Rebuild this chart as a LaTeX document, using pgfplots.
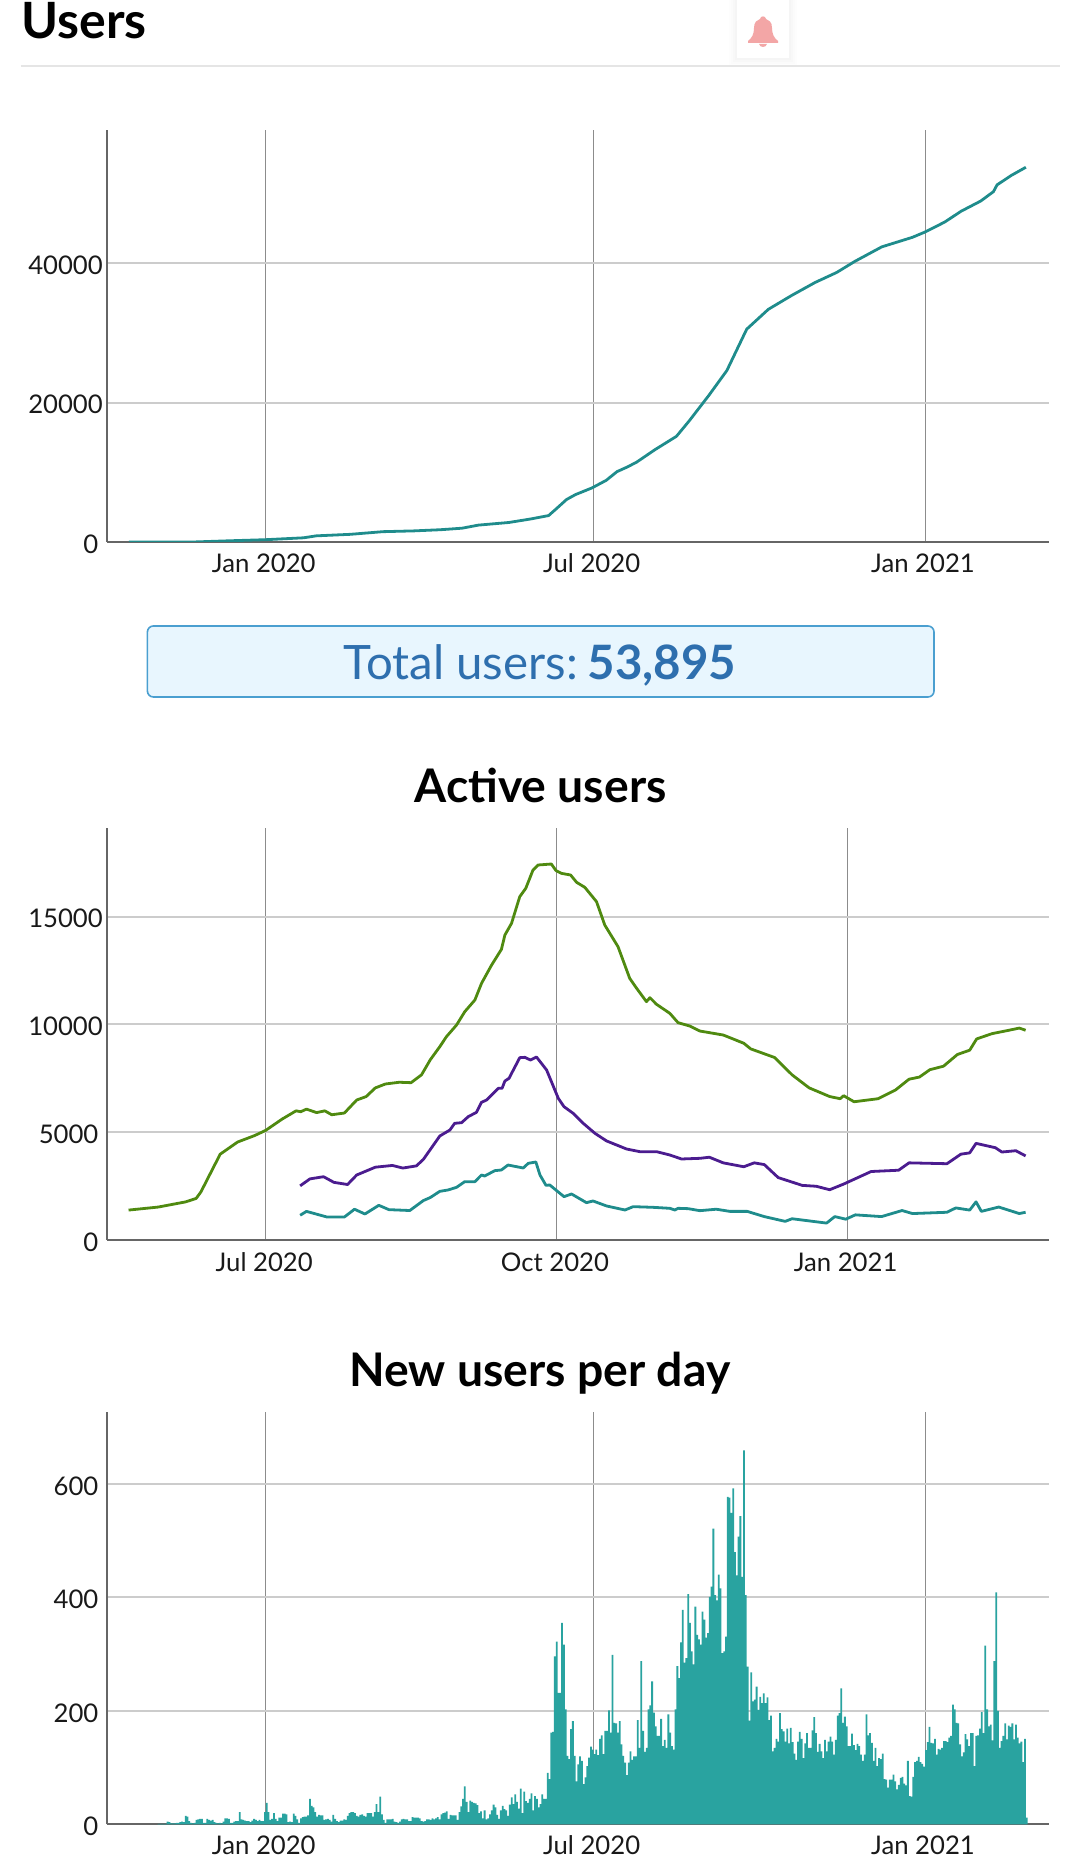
\documentclass[border=0pt]{standalone}
\usepackage{fontspec}
\setmainfont{Lato}
\usepackage{pgfplots}
\pgfplotsset{compat=1.18}

\definecolor{tealline}{HTML}{1F8C8C}
\definecolor{tealbar}{HTML}{29A3A0}
\definecolor{greenline}{HTML}{4F8A10}
\definecolor{purpleline}{HTML}{4B1C8F}
\definecolor{axisgray}{HTML}{666666}
\definecolor{hgrid}{HTML}{CCCCCC}
\definecolor{vgrid}{HTML}{8C8C8C}
\definecolor{boxfill}{HTML}{E8F6FE}
\definecolor{boxline}{HTML}{4A9FD0}
\definecolor{boxtext}{HTML}{2E6FAE}
\definecolor{bell}{HTML}{F3A6A6}

\pgfplotsset{
  panel/.style={
    scale only axis,
    anchor=south west,
    width=941.6pt,
    axis x line*=bottom,
    axis y line*=left,
    axis line style={-, color=axisgray, line width=2pt},
    major tick length=0pt,
    scaled y ticks=false,
    xmajorgrids, ymajorgrids,
    x grid style={color=vgrid, line width=1pt},
    y grid style={color=hgrid, line width=2pt},
    tick label style={font=\fontsize{25.7}{30}\selectfont, text=black!90},
    yticklabel style={inner sep=0pt, anchor=east, xshift=-4.4pt, yshift=-2pt},
    xticklabel style={inner sep=0pt, anchor=base, yshift=-30.9pt, xshift=-2pt},
  },
  wide/.style={panel, xmin=-87.95, xmax=434.85, xtick={0,182,366},
    xticklabels={Jan 2020,Jul 2020,Jan 2021}},
  userline/.style={line width=2.8pt, line join=round},
}

\begin{document}
\begin{tikzpicture}
\useasboundingbox (0,0) rectangle (1080pt,1862pt);

% page furniture
\node[anchor=base west, inner sep=0pt, font=\fontsize{50}{54}\selectfont\bfseries] at (21pt,1823pt) {Users};
\foreach \g/\o in {8/0.006,6/0.008,4/0.01,2/0.012}
  \fill[black, opacity=\o] (737pt-\g pt,1804pt-\g pt) rectangle (789pt+\g pt,1862pt);
\fill[white] (737pt,1804pt) rectangle (789pt,1862pt);
\draw[color=black!10, line width=2pt] (20.6pt,1796pt) -- (1060pt,1796pt);
\fill[bell] (748pt,1821pt)
  .. controls (752pt,1824pt) and (754pt,1828pt) .. (754pt,1834pt)
  .. controls (754pt,1840pt) and (757pt,1842pt) .. (760pt,1843pt)
  .. controls (760.5pt,1846.5pt) and (765.5pt,1846.5pt) .. (766pt,1843pt)
  .. controls (769pt,1842pt) and (772pt,1840pt) .. (772pt,1834pt)
  .. controls (772pt,1828pt) and (774pt,1824pt) .. (778pt,1821pt)
  -- (778pt,1819pt) -- (748pt,1819pt) -- cycle;
\fill[bell] (759pt,1818pt) -- (767pt,1818pt) .. controls (766pt,1814pt) and (760pt,1814pt) .. (759pt,1818pt) -- cycle;

\draw[fill=boxfill, draw=boxline, line width=1.6pt, rounded corners=6pt] (147.4pt,1165pt) rectangle (934pt,1236pt);
\node[anchor=base, inner sep=0pt, text=boxtext, font=\fontsize{47.4}{52}\selectfont] at (540pt,1182pt) {Total users:\kern-2.5pt\ \textbf{53,895}};
\node[anchor=base, inner sep=0pt, font=\fontsize{46.3}{52}\selectfont\bfseries] at (540.5pt,1059pt) {Active users};
\node[anchor=base, inner sep=0pt, font=\fontsize{46.3}{52}\selectfont\bfseries] at (540pt,475pt) {New users per day};

% total users
\begin{axis}[wide, at={(107.4pt,1320pt)}, height=412pt,
  ymin=0, ymax=59153, ytick={0,20000,40000},
  yticklabels={{0\kern4.4pt},{20000},{40000}}]
\addplot[color=tealline, userline] coordinates {
  (-76,0) (-40,0) (-21,165) (0,330) (21,600) (28,880) (47,1100) (65,1480)
  (82,1590) (97,1760) (109,1980) (118,2420) (135,2800) (147,3300) (157,3790)
  (161,4700) (167,6100) (172,6810) (181,7750) (189,8850) (195,10100) (201,10800)
  (206,11480) (216,13240) (228,15170) (235,17360) (246,21050) (256,24620)
  (267,30550) (279,33400) (292,35400) (305,37260) (317,38700) (327,40280)
  (342,42370) (359,43740) (366,44500) (377,45940) (386,47480) (397,48960)
  (404,50300) (406,51270) (414,52640) (422,53800)
};
\end{axis}

% active users
\begin{axis}[panel, at={(107.4pt,622pt)}, height=411.5pt,
  xmin=-50.1, xmax=247.9, xtick={0,92,184},
  xticklabels={Jul 2020,Oct 2020,Jan 2021},
  xticklabel style={xshift=0.5pt, yshift=-0.8pt},
  ymin=0, ymax=19087, ytick={0,5000,10000,15000},
  yticklabels={{0\kern4.4pt},{5000\kern4.4pt},{10000},{15000}}]
\addplot[color=greenline, userline] coordinates {
  (-43.4,1387) (-34,1528) (-25.3,1769) (-22,1930) (-20.5,2231) (-17.7,3035)
  (-14.4,3980) (-8.9,4543) (-3.5,4844) (0,5085) (5.2,5608) (9.6,5990) (11.1,5950)
  (12.9,6070) (16.1,5909) (18.7,5990) (20.9,5809) (24.9,5889) (28.8,6492)
  (31.8,6653) (34.7,7055) (37.9,7236) (42.3,7316) (46,7296) (49.3,7658)
  (52.1,8362) (55.1,8967) (57.2,9431) (60.4,9972) (63,10590) (66.2,11131)
  (68.3,11904) (71.5,12755) (74.6,13481) (75.7,14146) (77.8,14687) (80.4,15924)
  (82.3,16310) (84.6,17161) (86.2,17393) (90.4,17439) (91.9,17130) (93.6,17006)
  (96.5,16929) (98.4,16589) (101,16357) (104.7,15692) (107.3,14610) (111.5,13605)
  (115.2,12136) (117.4,11672) (120.5,11054) (121.6,11239) (123.7,10930)
  (127.9,10513) (130.5,10080) (134.2,9925) (137.4,9693) (144.8,9507) (151.3,9125)
  (153.5,8864) (161.1,8462) (166.6,7658) (172,7055) (178.5,6653) (181.8,6553)
  (182.9,6693) (186.2,6412) (193.8,6553) (199.3,6955) (203.6,7457) (206.9,7558)
  (210.2,7899) (214.5,8060) (218.9,8603) (222.8,8804) (225,9326) (229.8,9568)
  (235.2,9728) (238.5,9829) (240.5,9728)
};
\addplot[color=purpleline, userline] coordinates {
  (10.9,2512) (14,2834) (18.3,2935) (21.6,2673) (25.9,2573) (28.8,3015) (34.7,3377)
  (40.1,3457) (43.4,3337) (47.7,3437) (49.9,3739) (55.1,4824) (58.3,5102)
  (59.8,5411) (62,5442) (64.1,5720) (66.7,5921) (68.3,6385) (69.9,6493) (73.6,7034)
  (74.8,7034) (75.7,7374) (77,7498) (80.4,8457) (82,8472) (83.8,8348) (85.7,8488)
  (88.9,7885) (92.6,6571) (94.4,6184) (97.3,5875) (100.5,5411) (104.2,4947)
  (107.9,4592) (114.2,4221) (118.4,4097) (123.7,4097) (127.9,3942) (131.6,3757)
  (137.4,3788) (140.4,3839) (144.8,3578)
  (151.3,3397) (154.6,3578) (157.8,3497) (162.2,2894) (169.8,2533) (174.2,2492)
  (178.5,2332) (182.9,2593) (191.6,3176) (200.3,3236) (203.6,3578) (215.6,3538)
  (220,3980) (222.8,4040) (224.8,4482) (230.9,4281) (233,4080) (237.4,4141)
  (240.5,3899)
};
\addplot[color=tealline, userline] coordinates {
  (10.9,1146) (12.9,1327) (19.4,1065) (24.9,1065) (28.1,1427) (31.4,1206)
  (35.8,1608) (39,1407) (45.6,1367) (49.9,1829) (52.1,1970) (55.1,2257) (57.7,2319)
  (60.4,2443) (63,2706) (66.2,2706) (68.3,3015) (69.3,2968) (72.5,3216) (74.6,3247)
  (76.7,3478) (81.5,3339) (83.1,3556) (85.5,3618) (86.8,3015) (88.7,2535)
  (89.9,2551) (94.4,2010) (96.8,2133) (101.5,1732) (103.6,1809) (107.9,1577)
  (113.7,1391) (116.3,1546) (122.6,1515) (127.9,1469) (129.5,1391) (130.5,1469)
  (133.7,1453) (137.4,1360)
  (142.6,1427) (146.9,1327) (152.4,1327) (157.8,1085) (164.4,864) (166.6,985)
  (177.5,784) (180.1,1085) (183.6,965) (186.6,1166) (194.9,1085) (201.4,1367)
  (204.7,1226) (215.6,1286) (218.4,1487) (222.8,1387) (224.8,1769) (226.5,1327)
  (232,1528) (238.5,1226) (240.5,1286)
};
\end{axis}

% new users per day
\begin{axis}[wide, at={(107.4pt,37.5pt)}, height=412.7pt,
  ymin=0, ymax=727, ytick={0,200,400,600},
  yticklabels={{0},{200},{400},{600}},
  yticklabel style={xshift=-4.4pt},
  xticklabel style={yshift=1.2pt}]
\addplot[const plot mark left, fill=tealbar, draw=none] coordinates {
  (-60,1)(-59,1)(-58,1)(-57,1)(-56,1)(-55,5)(-54,4)(-53,2)(-52,2)(-51,2)
  (-50,3)(-49,3)(-48,4)(-47,5)(-46,4)(-45,15)(-44,14)(-43,6)(-42,3)(-41,2)
  (-40,3)(-39,8)(-38,9)(-37,10)(-36,10)(-35,3)(-34,3)(-33,10)(-32,8)(-31,7)
  (-30,8)(-29,4)(-28,3)(-27,2)(-26,3)(-25,2)(-24,5)(-23,11)(-22,11)(-21,10)
  (-20,3)(-19,3)(-18,5)(-17,6)(-16,6)(-15,22)(-14,9)(-13,8)(-12,7)(-11,6)
  (-10,6)(-9,4)(-8,7)(-7,10)(-6,8)(-5,6)(-4,8)(-3,6)(-2,6)(-1,22)
  (0,38)(1,22)(2,8)(3,10)(4,20)(5,10)(6,6)(7,12)(8,12)(9,19)
  (10,19)(11,18)(12,4)(13,5)(14,4)(15,19)(16,15)(17,9)(18,3)(19,11)
  (20,13)(21,14)(22,14)(23,16)(24,45)(25,33)(26,30)(27,22)(28,14)(29,17)
  (30,16)(31,16)(32,8)(33,9)(34,10)(35,8)(36,5)(37,17)(38,10)(39,6)
  (40,4)(41,7)(42,7)(43,9)(44,8)(45,15)(46,20)(47,22)(48,22)(49,20)
  (50,15)(51,14)(52,17)(53,18)(54,15)(55,14)(56,20)(57,20)(58,20)(59,14)
  (60,22)(61,36)(62,22)(63,49)(64,18)(65,8)(66,3)(67,9)(68,9)(69,9)
  (70,10)(71,5)(72,4)(73,3)(74,5)(75,9)(76,10)(77,9)(78,9)(79,6)
  (80,6)(81,13)(82,12)(83,12)(84,12)(85,11)(86,6)(87,5)(88,6)(89,9)
  (90,9)(91,8)(92,11)(93,9)(94,11)(95,13)(96,9)(97,18)(98,20)(99,21)
  (100,23)(101,10)(102,17)(103,16)(104,16)(105,16)(106,8)(107,22)(108,32)(109,45)
  (110,67)(111,40)(112,22)(113,42)(114,40)(115,38)(116,37)(117,34)(118,20)(119,23)
  (120,11)(121,25)(122,9)(123,11)(124,18)(125,25)(126,35)(127,30)(128,17)(129,10)
  (130,25)(131,33)(132,27)(133,25)(134,15)(135,35)(136,48)(137,36)(138,53)(139,40)
  (140,28)(141,63)(142,20)(143,58)(144,41)(145,38)(146,45)(147,55)(148,25)(149,50)
  (150,45)(151,30)(152,36)(153,53)(154,45)(155,45)(156,91)(157,80)(158,162)(159,163)
  (160,296)(161,322)(162,232)(163,232)(164,355)(165,317)(166,203)(167,121)(168,115)(169,168)
  (170,182)(171,121)(172,76)(173,106)(174,120)(175,112)(176,71)(177,83)(178,103)(179,118)
  (180,137)(181,132)(182,124)(183,132)(184,122)(185,151)(186,157)(187,124)(188,165)(189,165)
  (190,201)(191,162)(192,299)(193,179)(194,178)(195,162)(196,182)(197,141)(198,121)(199,109)
  (200,87)(201,109)(202,129)(203,114)(204,120)(205,120)(206,184)(207,135)(208,288)(209,165)
  (210,128)(211,135)(212,203)(213,210)(214,252)(215,197)(216,173)(217,156)(218,156)(219,186)
  (220,138)(221,149)(222,135)(223,194)(224,162)(225,138)(226,132)(227,203)(228,279)(229,258)
  (230,321)(231,378)(232,285)(233,293)(234,406)(235,355)(236,305)(237,282)(238,384)(239,334)
  (240,326)(241,317)(242,375)(243,361)(244,329)(245,337)(246,401)(247,419)(248,521)(249,404)
  (250,395)(251,440)(252,416)(253,302)(254,305)(255,331)(256,577)(257,576)(258,549)(259,592)
  (260,480)(261,439)(262,507)(263,543)(264,436)(265,659)(266,404)(267,278)(268,183)(269,268)
  (270,217)(271,220)(272,243)(273,202)(274,225)(275,214)(276,231)(277,214)(278,224)(279,184)
  (280,192)(281,129)(282,135)(283,151)(284,146)(285,196)(286,168)(287,164)(288,146)(289,169)
  (290,143)(291,170)(292,145)(293,125)(294,114)(295,146)(296,163)(297,151)(298,117)(299,143)
  (300,161)(301,135)(302,135)(303,166)(304,189)(305,161)(306,128)(307,142)(308,129)(309,117)
  (310,149)(311,129)(312,146)(313,155)(314,146)(315,123)(316,149)(317,192)(318,196)(319,240)
  (320,179)(321,190)(322,173)(323,138)(324,138)(325,160)(326,140)(327,131)(328,142)(329,138)
  (330,123)(331,112)(332,123)(333,194)(334,157)(335,161)(336,144)(337,112)(338,135)(339,103)
  (340,117)(341,115)(342,125)(343,80)(344,79)(345,65)(346,79)(347,79)(348,88)(349,76)
  (350,62)(351,70)(352,82)(353,84)(354,72)(355,69)(356,112)(357,50)(358,49)(359,84)
  (360,110)(361,112)(362,119)(363,110)(364,107)(365,102)(366,131)(367,145)(368,172)(369,144)
  (370,143)(371,151)(372,123)(373,133)(374,132)(375,135)(376,147)(377,147)(378,145)(379,153)
  (380,156)(381,211)(382,203)(383,179)(384,178)(385,141)(386,120)(387,127)(388,159)(389,150)
  (390,138)(391,161)(392,161)(393,103)(394,156)(395,157)(396,169)(397,198)(398,161)(399,315)
  (400,203)(401,173)(402,176)(403,148)(404,288)(405,409)(406,200)(407,135)(408,147)(409,156)
  (410,178)(411,150)(412,174)(413,172)(414,178)(415,150)(416,176)(417,153)(418,143)(419,146)
  (420,110)(421,151)(422,12)(423,0)
} \closedcycle;
\end{axis}
\end{tikzpicture}
\end{document}
